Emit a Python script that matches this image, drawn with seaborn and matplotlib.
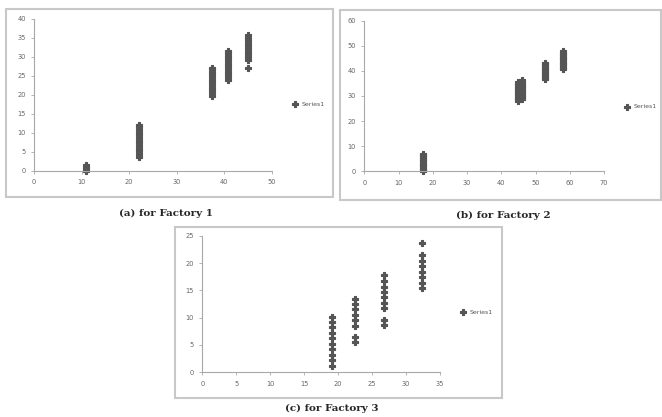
import matplotlib
matplotlib.use("Agg")
import matplotlib.pyplot as plt
import seaborn as sns
import pandas as pd
from matplotlib.patches import Rectangle

sns.set_style("white")

# factory 1
f1_x = [11] * 4 + [22] * 13 + [37.3] * 12 + [40.7] * 12 + [44.9] * 11
f1_y = [0, 0.5, 1, 1.5,
        3.8, 4.5, 5.2, 5.9, 6.6, 7.3, 8.0, 8.7, 9.4, 10.1, 10.8, 11.5, 12.2,
        19.8, 20.5, 21.2, 21.9, 22.6, 23.3, 24.0, 24.7, 25.4, 26.1, 26.8, 27.2,
        24.0, 24.7, 25.4, 26.1, 26.8, 27.5, 28.2, 28.9, 29.6, 30.3, 31.0, 31.5,
        27.0, 29.3, 30.0, 30.7, 31.4, 32.1, 32.8, 33.5, 34.2, 34.9, 35.7]

# factory 2
f2_x = [17.2] * 15 + [45] * 15 + [46] * 15 + [52.8] * 14 + [57.9] * 15
f2_y = [0, 0.5, 1, 1.5, 2, 2.5, 3, 3.5, 4, 4.5, 5, 5.5, 6, 6.5, 7,
        28.2, 28.7, 29.2, 29.7, 30.2, 30.7, 31.2, 31.7, 32.2, 32.7, 33.2, 33.7, 34.2, 34.7, 35.4,
        29.0, 29.5, 30.0, 30.5, 31.0, 31.5, 32.0, 32.5, 33.0, 33.5, 34.0, 34.5, 35.0, 35.6, 36.3,
        36.7, 37.2, 37.7, 38.2, 38.7, 39.2, 39.7, 40.2, 40.7, 41.2, 41.7, 42.2, 42.7, 43.2,
        40.7, 41.2, 41.7, 42.2, 42.7, 43.2, 43.7, 44.2, 44.7, 45.2, 45.7, 46.2, 46.7, 47.2, 47.8]

# factory 3
f3_x = [19.1] * 10 + [22.5] * 8 + [26.7] * 9 + [32.4] * 8
f3_y = [1.2, 2.2, 3.2, 4.2, 5.2, 6.2, 7.2, 8.2, 9.2, 10.2,
        5.5, 6.5, 8.5, 9.5, 10.5, 11.5, 12.5, 13.5,
        8.6, 9.6, 11.7, 12.7, 13.7, 14.7, 15.7, 16.7, 17.8,
        15.4, 16.4, 17.4, 18.4, 19.4, 20.4, 21.5, 23.6]

panels = [
    dict(x=f1_x, y=f1_y, xlim=(0, 50), ylim=(0, 40), xstep=10, ystep=5,
         ax=[0.0514, 0.590, 0.3595, 0.3645], box=[0.009, 0.5276, 0.494, 0.4508],
         leg=(1.06, 0.44), title="(a) for Factory 1", tpos=(0.2508, 0.489)),
    dict(x=f2_x, y=f2_y, xlim=(0, 70), ylim=(0, 60), xstep=10, ystep=10,
         ax=[0.5503, 0.5892, 0.3621, 0.3612], box=[0.5136, 0.5204, 0.4849, 0.4556],
         leg=(1.06, 0.43), title="(b) for Factory 2", tpos=(0.76, 0.4844)),
    dict(x=f3_x, y=f3_y, xlim=(0, 35), ylim=(0, 25), xstep=5, ystep=5,
         ax=[0.3056, 0.1072, 0.3591, 0.3276], box=[0.2644, 0.0456, 0.494, 0.41],
         leg=(1.06, 0.44), title="(c) for Factory 3", tpos=(0.5015, 0.0216)),
]

fig = plt.figure(figsize=(6.62, 4.17), dpi=100)

for p in panels:
    fig.patches.append(Rectangle(p["box"][:2], p["box"][2], p["box"][3],
                                 transform=fig.transFigure, fill=False,
                                 edgecolor="#c8c8c8", linewidth=1.5))
    ax = fig.add_axes(p["ax"])
    df = pd.DataFrame({"x": p["x"], "y": p["y"]})
    sns.scatterplot(data=df, x="x", y="y", ax=ax, marker="P", s=20,
                    color="#555555", edgecolor="#555555", linewidth=0.8,
                    label="Series1")
    ax.set_xlim(*p["xlim"])
    ax.set_ylim(*p["ylim"])
    ax.set_xticks(range(p["xlim"][0], p["xlim"][1] + 1, p["xstep"]))
    ax.set_yticks(range(p["ylim"][0], p["ylim"][1] + 1, p["ystep"]))
    ax.set_xlabel("")
    ax.set_ylabel("")
    ax.set_facecolor("none")
    for s in ["top", "right"]:
        ax.spines[s].set_visible(False)
    for s in ["left", "bottom"]:
        ax.spines[s].set_color("#a8a8a8")
        ax.spines[s].set_linewidth(0.8)
    ax.tick_params(axis="both", labelsize=4.8, colors="#a8a8a8",
                   labelcolor="#666666", length=2, width=0.6, pad=4,
                   direction="out", bottom=True, left=True)
    ax.legend(loc="center left", bbox_to_anchor=p["leg"], frameon=False,
              fontsize=4.5, handletextpad=0.1, markerscale=0.9,
              borderaxespad=0, labelcolor="#555555")
    for c in ax.collections:
        c.set_clip_on(False)
    fig.text(p["tpos"][0], p["tpos"][1], p["title"], ha="center", va="center",
             fontsize=7.5, fontweight="bold", family="DejaVu Serif")

fig.savefig("out.png", dpi=100)
